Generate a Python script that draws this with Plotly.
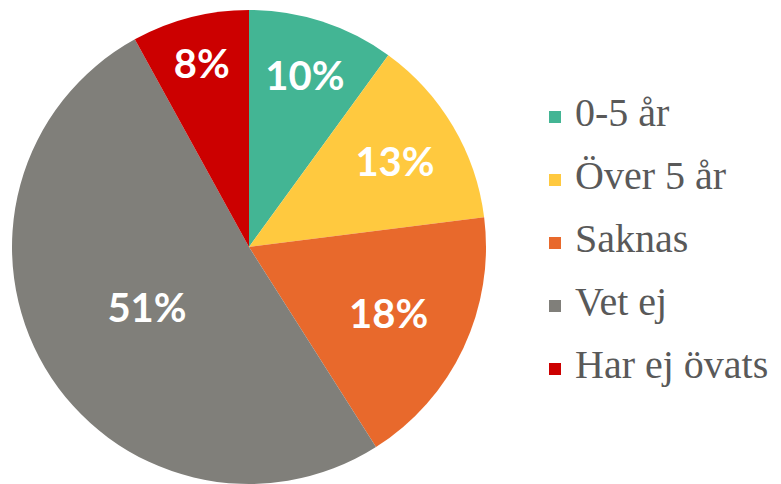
import plotly.graph_objects as go

categories = ["0-5 år", "Över 5 år", "Saknas", "Vet ej", "Har ej övats"]
values = [10, 13, 18, 51, 8]
colors = ["#43B594", "#FFC93F", "#E8692C", "#807F7A", "#CC0000"]

# page body has an 8px margin; shift layout positions to compensate
OFF = 8
W, H = 781, 484

# legend labels: big text on first line, empty second line to get Office-like spacing
legend_labels = ["<span style='font-size:40px'>%s</span><br> " % c for c in categories]

fig = go.Figure(go.Pie(
    labels=legend_labels,
    values=values,
    sort=False,
    direction="clockwise",
    rotation=0,
    marker=dict(colors=colors, line=dict(width=0)),
    texttemplate="%{percent:.0%}",
    textposition="inside",
    insidetextorientation="horizontal",
    textfont=dict(family="Lato", size=40, color="white", weight=700),
    domain=dict(x=[(12 - OFF) / W, (486 - OFF) / W],
                y=[(H - (484 - OFF)) / H, (H - (10 - OFF)) / H]),
    hoverinfo="skip",
))

fig.update_layout(
    width=W, height=H,
    margin=dict(l=0, r=0, t=0, b=0),
    paper_bgcolor="white",
    plot_bgcolor="white",
    uniformtext=dict(minsize=40, mode="show"),
    legend=dict(
        x=(535 - OFF) / W, xanchor="left",
        y=1 - (95.5 - OFF) / H, yanchor="top",
        font=dict(family="Times New Roman", size=30 / 1.3, color="#595959"),
        valign="top",
        itemwidth=30,
        bgcolor="rgba(0,0,0,0)",
    ),
    showlegend=True,
)

fig.write_html("out.html")
